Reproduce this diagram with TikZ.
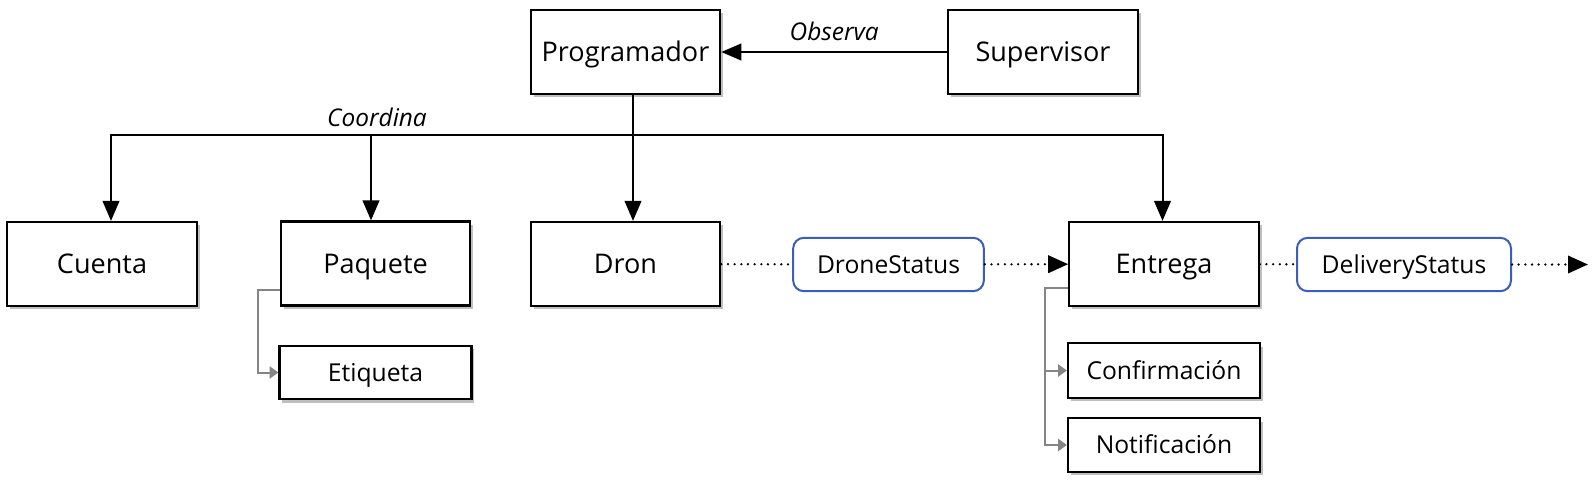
\documentclass[tikz,border=0pt]{standalone}
\usepackage{fontspec}
\setmainfont{Open Sans}
\usepackage{tikz}
\usetikzlibrary{arrows.meta, positioning, calc, shadows}
\definecolor{statblue}{HTML}{3B5EB8}
\definecolor{subgray}{HTML}{858585}

\tikzset{
    entity/.style={draw, line width=1.7pt, fill=white, minimum width=142pt, minimum height=63pt,
        inner sep=0pt, text height=14.5pt, text depth=0pt, font=\fontsize{20.3}{24}\selectfont,
        drop shadow={shadow xshift=2.2pt, shadow yshift=-2.6pt, opacity=0.25, fill=black}},
    part/.style={entity, minimum width=144pt, minimum height=40pt, text height=13.2pt,
        font=\fontsize{18.5}{22}\selectfont},
    status/.style={draw=statblue, line width=1.5pt, rounded corners=8pt, fill=white,
        minimum height=40pt, inner sep=0pt, text height=13.2pt, text depth=0pt,
        font=\fontsize{18.5}{22}\selectfont},
    flow/.style={line width=1.5pt, -{Triangle[length=15pt, width=12.5pt]}},
    relabel/.style={font=\fontsize{18.3}{22}\selectfont\itshape},
    dots/.style={line width=1.9pt, line cap=round, dash pattern=on 0pt off 5pt},
    dotflow/.style={dots, -{Triangle[length=15pt, width=13pt]}},
    sub/.style={subgray, line width=1.5pt, -{Triangle[length=6.5pt, width=9pt]}}
}

\begin{document}
\begin{tikzpicture}[x=0.75pt, y=-0.75pt]
        \useasboundingbox (0,0) rectangle (1593,486);

        % upper row
        \node[entity] (prog) at (625.5,52) {Programador};
        \node[entity] (sup) at (1043,52) {Supervisor};

        % main row
        \node[entity] (cuenta) at (102,264) {Cuenta};
        \node[entity] (paquete) at (375.5,263.5) {Paquete};
        \node[entity] (dron) at (625.5,264) {Dron};
        \node[entity] (entrega) at (1164,264) {Entrega};
        \node[status, minimum width=143pt] (dstat) at (888.5,264.5) {DroneStatus};
        \node[status, minimum width=160.5pt] (delstat) at (1404,264.5) {DeliveryStatus};
        \coordinate (out) at (1588,264.5);

        % sub parts
        \node[part] (etiqueta) at (375.5,372.5) {Etiqueta};
        \node[part, minimum height=41pt] (conf) at (1164,370.5) {Confirmación};
        \node[part] (notif) at (1164,445) {Notificación};

        % relations
        \draw[flow] (sup) -- (prog) node[relabel, midway, above=4pt] {Observa};
        \coordinate (bus) at (633,135);
        \draw[flow] ($(prog.south)+(7.5,0)$) -- ($(dron.north)+(7.5,0)$);
        \draw[flow] (bus) -| ($(cuenta.north)+(9,0)$);
        \draw[flow] (bus) -| ($(paquete.north)+(-4.5,0)$);
        \draw[flow] (bus) -| ($(entrega.north)+(-1.5,0)$);
        \node[relabel] (coord) at (377,117) {Coordina};

        % status chain
        \draw[dots] (dron) -- (dstat);
        \draw[dotflow] (dstat) -- (entrega);
        \draw[dots] (entrega) -- (delstat);
        \draw[dotflow] (delstat) -- (out);

        % composition
        \draw[sub] ($(paquete.west)+(0,26.5)$) -- ++(-22,0) |- (etiqueta.west);
        \draw[sub] ($(entrega.west)+(0,24)$) -- ++(-23,0) |- (conf.west);
        \draw[sub] ($(entrega.west)+(-23,24)$) |- (notif.west);
    \end{tikzpicture}
\end{document}
